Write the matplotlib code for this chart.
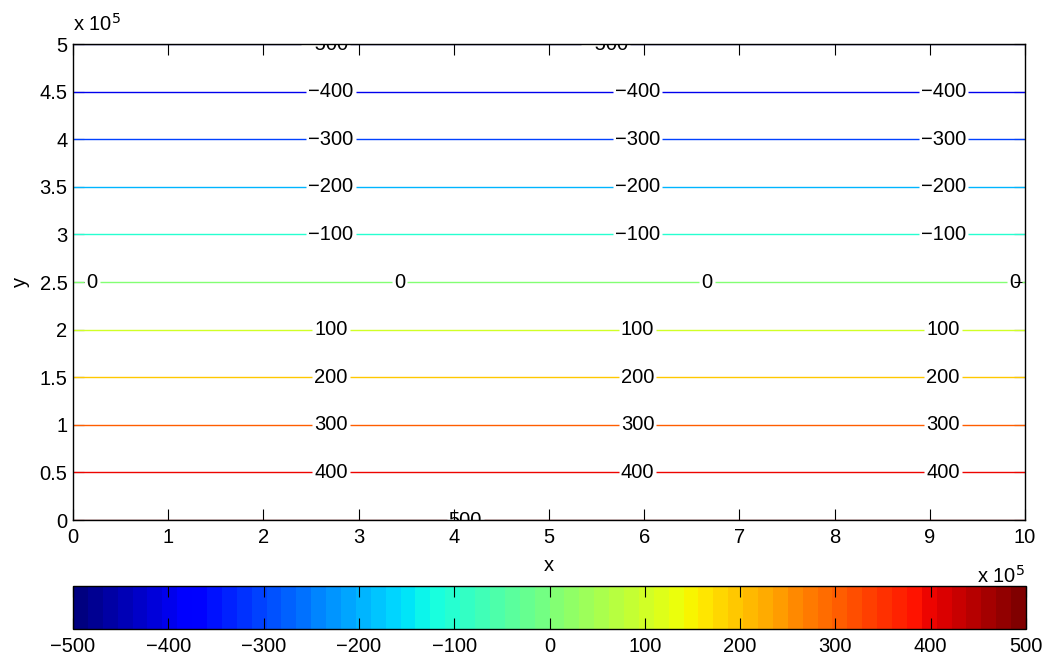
import numpy as np
import matplotlib
matplotlib.use("Agg")
import matplotlib.pyplot as plt
from matplotlib.colors import ListedColormap, Normalize
from matplotlib.cm import ScalarMappable

plt.rcParams['font.family'] = ['Liberation Sans', 'DejaVu Sans']
FS = 14.5

# Field sampled on a coarse grid: value falls linearly by 100 every 0.5e5 in y,
# from 520 just below the plot to -520 just above it
x_grid = [0.0, 1.0e6]
y_grid = [-1.0e4, 5.1e5]
z_grid = [[520.0, 520.0],
          [-520.0, -520.0]]

levels = [-500, -400, -300, -200, -100, 0, 100, 200, 300, 400, 500]

# Label anchor positions (data coordinates) for each contour level
label_x = {
    -500: [2.65e5, 5.59e5],
    -400: [2.71e5, 5.93e5, 9.14e5],
    -300: [2.71e5, 5.93e5, 9.14e5],
    -200: [2.71e5, 5.93e5, 9.14e5],
    -100: [2.71e5, 5.93e5, 9.14e5],
    0: [0.20e5, 3.43e5, 6.66e5, 9.89e5],
    100: [2.71e5, 5.93e5, 9.14e5],
    200: [2.71e5, 5.93e5, 9.14e5],
    300: [2.71e5, 5.93e5, 9.14e5],
    400: [2.71e5, 5.93e5, 9.14e5],
    500: [4.12e5],
}

xticks = [0, 1e5, 2e5, 3e5, 4e5, 5e5, 6e5, 7e5, 8e5, 9e5, 1e6]
xtick_labels = ['0', '1', '2', '3', '4', '5', '6', '7', '8', '9', '10']
yticks = [0, 0.5e5, 1e5, 1.5e5, 2e5, 2.5e5, 3e5, 3.5e5, 4e5, 4.5e5, 5e5]
ytick_labels = ['0', '0.5', '1', '1.5', '2', '2.5', '3', '3.5', '4', '4.5', '5']
cbar_ticks = [-500, -400, -300, -200, -100, 0, 100, 200, 300, 400, 500]

jet64 = ListedColormap(plt.get_cmap('jet')(np.linspace(0, 1, 64)))
norm = Normalize(vmin=-500, vmax=500)

fig = plt.figure(figsize=(10.5, 6.65), dpi=100)
ax = fig.add_axes([73 / 1050, 1 - 520 / 665, 952 / 1050, 476 / 665])

X, Y = np.meshgrid(x_grid, y_grid)
Z = np.array(z_grid)
cs = ax.contour(X, Y, Z, levels=levels, cmap=jet64, norm=norm, linewidths=1.0)

positions = []
for lev in levels:
    yy = (500 - lev) * 500.0
    for xx in label_x[lev]:
        positions.append((xx, yy))


def fmt(v):
    return f"{v:.0f}".replace('-', '\u2212')


texts = ax.clabel(cs, levels, manual=positions, inline=True, fmt=fmt,
                  fontsize=FS, colors='black', inline_spacing=2)
for t in texts:
    t.set_clip_on(True)
    t.set_clip_box(ax.bbox)

ax.set_xlim(0, 1e6)
ax.set_ylim(0, 5e5)
ax.set_xticks(xticks)
ax.set_xticklabels(xtick_labels)
ax.set_yticks(yticks)
ax.set_yticklabels(ytick_labels)
ax.tick_params(direction='in', length=8, width=0.8, top=True, right=True,
               labelsize=FS)
ax.tick_params(axis='x', pad=6)
ax.tick_params(axis='y', pad=4)
for sp in ax.spines.values():
    sp.set_linewidth(1.0)
ax.set_xlabel('x', fontsize=FS, labelpad=6)
ax.set_ylabel('y', fontsize=FS, labelpad=7)

ax.text(0.0, 1.02, r'x 10$^{5}$', transform=ax.transAxes, fontsize=FS,
        ha='left', va='bottom')
ax.text(1.0, -0.095, r'x 10$^{5}$', transform=ax.transAxes, fontsize=FS,
        ha='right', va='top')

cax = fig.add_axes([73 / 1050, 1 - 629 / 665, 953 / 1050, 43 / 665])
cb = fig.colorbar(ScalarMappable(norm=norm, cmap=jet64), cax=cax,
                  orientation='horizontal')
cb.set_ticks(cbar_ticks)
cb.ax.tick_params(direction='in', length=8, width=0.8, top=True, bottom=True,
                  labelsize=FS, pad=6)
cb.outline.set_linewidth(1.0)

fig.savefig('out.png', dpi=100)
